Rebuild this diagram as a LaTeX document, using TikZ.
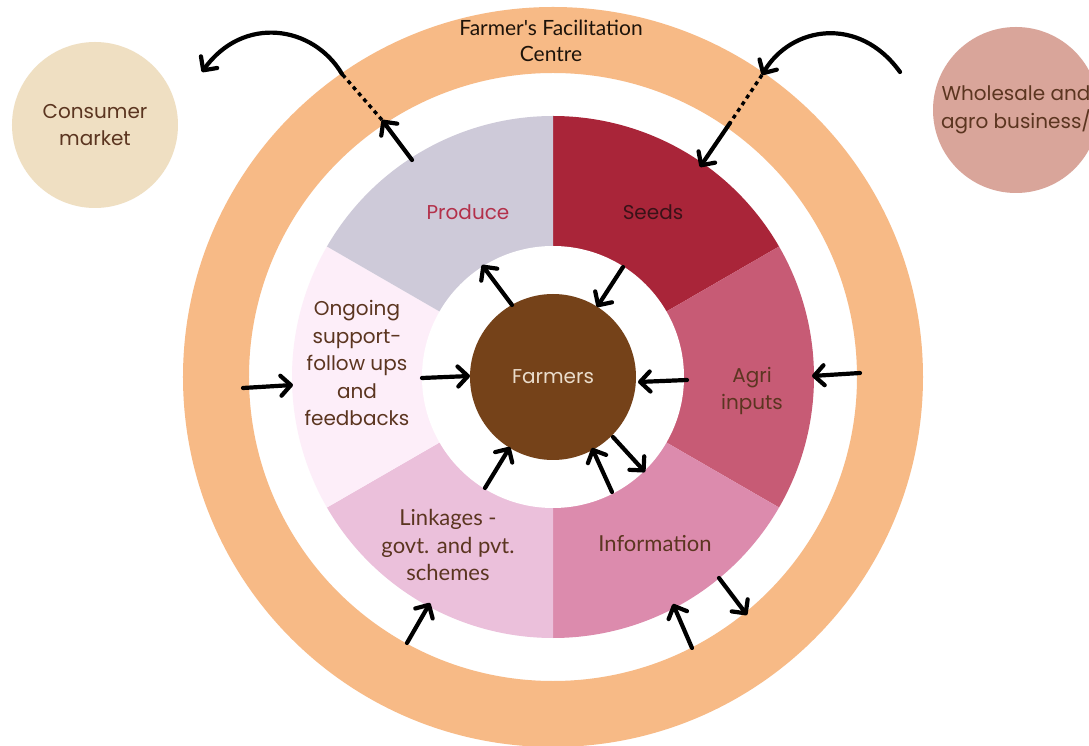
\documentclass[tikz,border=0pt]{standalone}
\usepackage{fontspec}
\setmainfont{Poppins}
\newfontfamily\gothic{Lato}
\usetikzlibrary{arrows.meta}

\definecolor{ringorange}{HTML}{F7BA86}
\definecolor{seedred}{HTML}{A92539}
\definecolor{agripink}{HTML}{C75B75}
\definecolor{infopink}{HTML}{DC8BAD}
\definecolor{linkpink}{HTML}{EBC0DB}
\definecolor{ongoingpink}{HTML}{FDEEF9}
\definecolor{producegrey}{HTML}{CECAD9}
\definecolor{farmbrown}{HTML}{754219}
\definecolor{consumercream}{HTML}{EFDFC2}
\definecolor{wholesalerose}{HTML}{D9A59A}
\definecolor{labelbrown}{HTML}{5B3520}
\definecolor{producetext}{HTML}{B3304A}
\definecolor{seedtext}{HTML}{3A1218}
\definecolor{farmtext}{HTML}{EADCCB}

\begin{document}
\begin{tikzpicture}[
  x=1pt, y=1pt,
  >={Straight Barb[length=10pt,width=20pt,round]},
  flow/.style={->, draw=black, line width=4.2pt, line cap=round},
  crossing/.style={draw=black, line width=3.4pt, dash pattern=on 4pt off 4pt},
  seglabel/.style={align=center, text=labelbrown, font=\fontsize{20}{27.5}\selectfont},
  gothlabel/.style={align=center, text=labelbrown, font=\gothic\fontsize{22}{27.5}\selectfont},
  market/.style={circle, minimum size=166pt, inner sep=0pt, align=center, text=labelbrown, font=\fontsize{20}{27.5}\selectfont}
]
  \useasboundingbox (-553,-369) rectangle (536,377);
  \fill[white] (-553,-369) rectangle (536,377);

  % facilitation ring
  \draw[ringorange, line width=66pt] (0,0) circle[radius=337];
  \node[gothlabel, text=black!85!brown, font=\gothic\fontsize{21}{26}\selectfont] (ffc) at (-2,336) {Farmer's Facilitation\\Centre};

  % services
  \foreach \a/\col in {30/seedred, -30/agripink, -90/infopink, -150/linkpink, 150/ongoingpink, 90/producegrey}
    \fill[\col] (0,0) -- (\a:261) arc[start angle=\a, delta angle=60, radius=261] -- cycle;
  \fill[white] (0,0) circle[radius=131];
  \node[circle, fill=farmbrown, minimum size=166pt, inner sep=0pt, text=farmtext, font=\fontsize{20}{24}\selectfont] (farmers) at (0,0) {Farmers};

  \node[seglabel, text=producetext] (produce) at (-85,165) {Produce};
  \node[seglabel, text=seedtext] (seeds) at (100,165) {Seeds};
  \node[seglabel] (agri) at (199,-14) {Agri\\inputs};
  \node[gothlabel] (info) at (102,-167) {Information};
  \node[gothlabel] (links) at (-105,-168) {Linkages -\\govt. and pvt.\\schemes};
  \node[seglabel] (ongoing) at (-196,14) {Ongoing\\support-\\follow ups\\and\\feedbacks};

  % markets
  \node[market, fill=consumercream] (consumer) at (-458,252) {Consumer\\market};
  \node[market, fill=wholesalerose] (wholesale) at (463,267) {Wholesale and\\agro business/};

  % arrow ends
  \coordinate (prodout) at (-141,217);
  \coordinate (prodring) at (-171,257);
  \coordinate (prodedge) at (-211,303);
  \coordinate (consumerin) at (-351,305);
  \coordinate (wholeout) at (347,305);
  \coordinate (seedring) at (209,302);
  \coordinate (seedring2) at (177,254);
  \coordinate (seedin) at (147,210);
  \coordinate (s1) at (70,110);   \coordinate (f1) at (44,70);
  \coordinate (f2) at (-41,72);   \coordinate (s2) at (-71,112);
  \coordinate (s3) at (134,-3);   \coordinate (f3) at (85,-5);
  \coordinate (s4) at (-131,-1);  \coordinate (f4) at (-83,1);
  \coordinate (s5) at (-68,-111); \coordinate (f5) at (-43,-70);
  \coordinate (s6) at (59,-115);  \coordinate (f6) at (39,-71);
  \coordinate (f7) at (60,-60);   \coordinate (s7) at (92,-95);
  \coordinate (r1) at (-310,-11); \coordinate (e1) at (-260,-8);
  \coordinate (r2) at (307,4);    \coordinate (e2) at (259,1);
  \coordinate (r3) at (-146,-266);\coordinate (e3) at (-123,-226);
  \coordinate (r4) at (139,-271); \coordinate (e4) at (120,-227);
  \coordinate (e5) at (166,-201); \coordinate (r5) at (194,-238);

  % produce to the consumer
  \draw[flow] (prodout) -- (prodring);
  \draw[crossing] (prodring) -- (prodedge);
  \draw[flow] (prodedge) .. controls +(-29,49) and +(41,57) .. (consumerin);
  % wholesale to the seeds
  \draw[flow] (wholeout) .. controls +(-41,57) and +(29,49) .. (seedring);
  \draw[crossing] (seedring) -- (seedring2);
  \draw[flow] (seedring2) -- (seedin);

  % around the farmers
  \foreach \p/\q in {s1/f1, f2/s2, s3/f3, s4/f4, s5/f5, s6/f6, f7/s7, r1/e1, r2/e2, r3/e3, r4/e4, e5/r5}
    \draw[flow] (\p) -- (\q);
\end{tikzpicture}
\end{document}
